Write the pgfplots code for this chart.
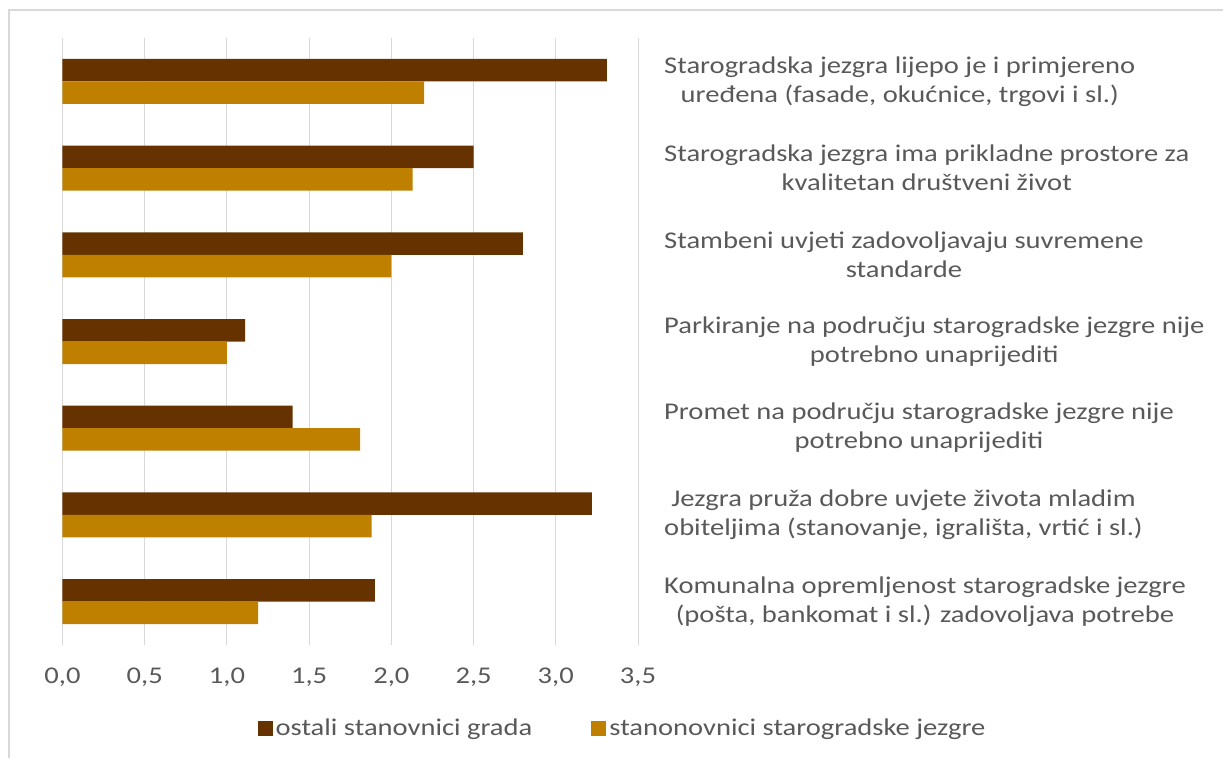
\documentclass[border=0pt]{standalone}
\usepackage{pgfplots}
\pgfplotsset{compat=1.18}
\usepackage{fontspec}
\setmainfont{Carlito}[FakeStretch=1.19]
\definecolor{darkbar}{HTML}{663300}
\definecolor{orangebar}{HTML}{BF8000}
\definecolor{txtgray}{HTML}{595959}
\definecolor{gridgray}{HTML}{D9D9D9}
\begin{document}
\begin{tikzpicture}
\begin{axis}[
  name=ax,
  scale only axis, width=575.5pt, height=607pt,
  xmin=0, xmax=3.5, ymin=0.5, ymax=7.5,
  xtick={0,0.5,...,3.5},
  xmajorgrids, grid style={gridgray, line width=1pt},
  axis line style={draw=none},
  major tick length=0pt,
  clip=false,
  xticklabel style={font=\fontsize{24}{29}\selectfont, text=txtgray, inner sep=0pt, anchor=north, yshift=-23pt},
  /pgf/number format/.cd, fixed, fixed zerofill, precision=1, use comma, assume math mode=true, /pgfplots/.cd,
  ytick={1,...,7},
  yticklabel pos=right,
  yticklabel style={font=\fontsize{24}{29}\selectfont, text=txtgray, inner sep=0pt, anchor=west, xshift=26pt, align=center},
  yticklabels={
    {Komunalna opremljenost starogradske jezgre\\(pošta, bankomat i sl.) zadovoljava potrebe},
    {Jezgra pruža dobre uvjete života mladim\\obiteljima (stanovanje, igrališta, vrtić i sl.)},
    {Promet na području starogradske jezgre nije\\potrebno unaprijediti},
    {Parkiranje na području starogradske jezgre nije\\potrebno unaprijediti},
    {Stambeni uvjeti zadovoljavaju suvremene\\standarde},
    {Starogradska jezgra ima prikladne prostore za\\kvalitetan društveni život},
    {Starogradska jezgra lijepo je i primjereno\\uređena (fasade, okućnice, trgovi i sl.)}
  },
  xbar, bar width=22.5pt,
  legend columns=2,
  legend style={at={(0.974,-0.137)}, anchor=center, draw=none, fill=none,
    font=\fontsize{24}{29}\selectfont, text=txtgray,
    /tikz/every even column/.append style={column sep=56pt},
    nodes={inner sep=3pt}},
  legend image code/.code={\fill[#1] (0pt,-7.5pt) rectangle (15pt,7.5pt);},
]
\coordinate (bl) at (rel axis cs:0,0);
\addplot[draw=none, fill=darkbar, bar shift=11.25pt] coordinates {
  (1.90,1) (3.22,2) (1.40,3) (1.11,4) (2.80,5) (2.50,6) (3.31,7)};
\addlegendentry{ostali stanovnici grada}
\addplot[draw=none, fill=orangebar, bar shift=-11.25pt] coordinates {
  (1.19,1) (1.88,2) (1.81,3) (1.00,4) (2.00,5) (2.13,6) (2.20,7)};
\addlegendentry{stanonovnici starogradske jezgre}
\end{axis}
\draw[gridgray, line width=1.5pt] ([shift={(-53.5pt,-113pt)}]bl) -- ([shift={(-53.5pt,635pt)}]bl) -- ([shift={(1160.5pt,635pt)}]bl);
\pgfresetboundingbox
\path[use as bounding box] ([shift={(-62.5pt,-113pt)}]bl) rectangle ([shift={(1160.5pt,645pt)}]bl);
\end{tikzpicture}
\end{document}
